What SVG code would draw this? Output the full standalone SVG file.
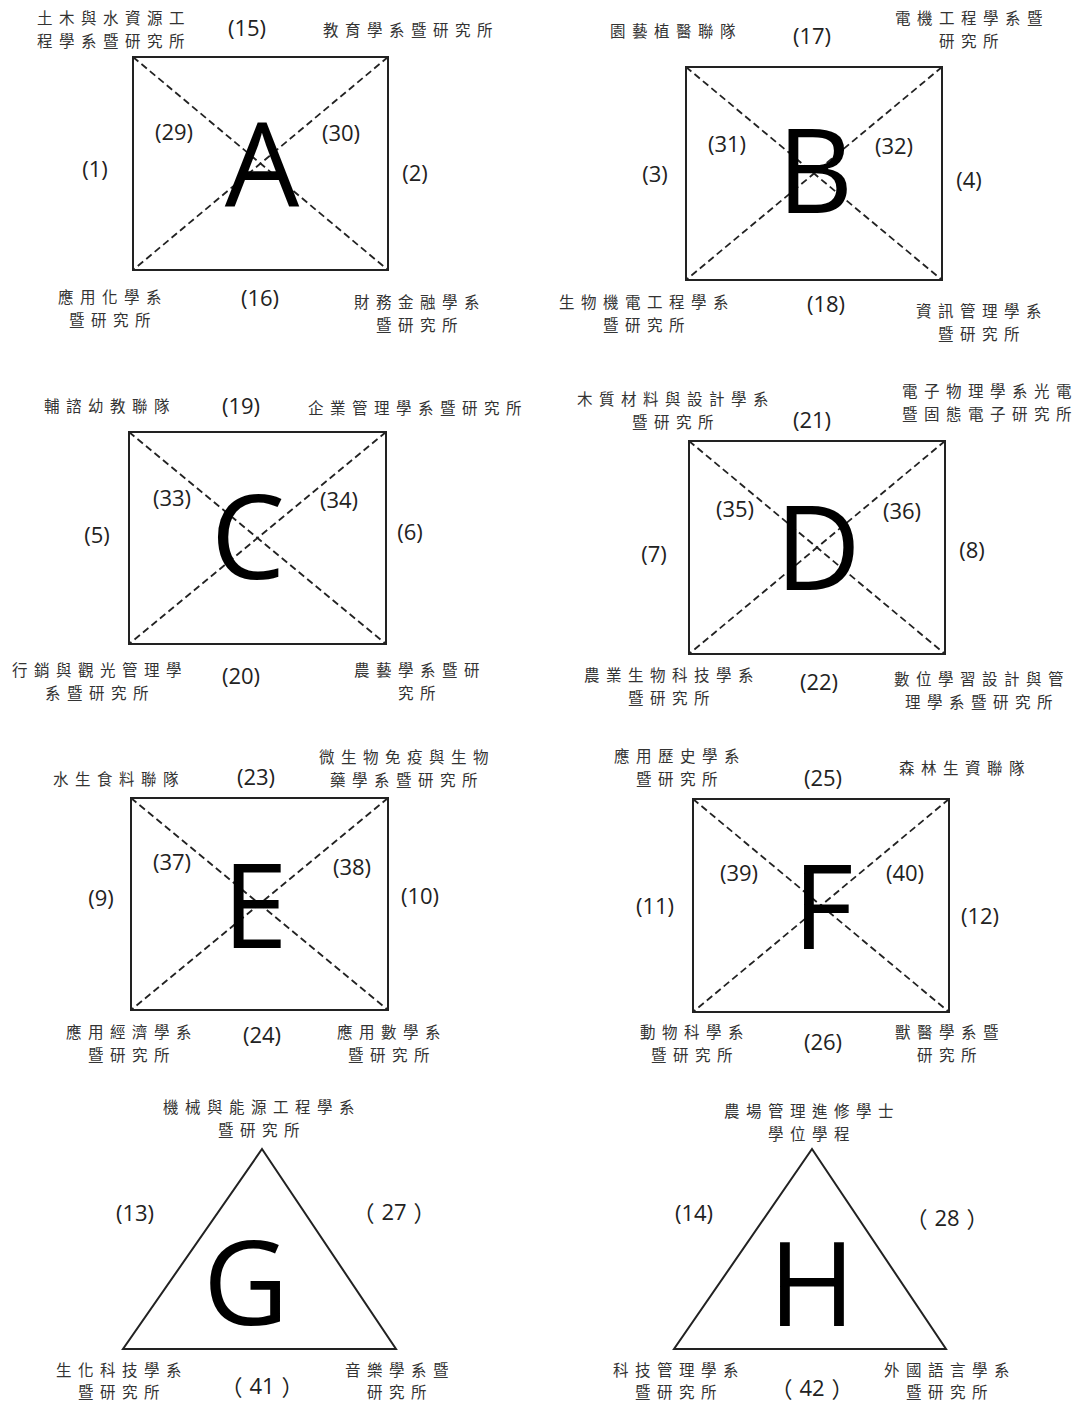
<svg xmlns="http://www.w3.org/2000/svg" width="1085" height="1403" viewBox="0 0 1085 1403">
<style>
.box{fill:none;stroke:#222;stroke-width:2}
.diag{stroke:#222;stroke-width:1.8;stroke-dasharray:7 4;fill:none}
.big{font-family:"Open Sans","Liberation Sans",sans-serif;font-size:118px;fill:#000;text-anchor:middle}
.num{font-family:"Open Sans","Noto Sans CJK TC",sans-serif;font-size:22px;fill:#222;text-anchor:middle;dominant-baseline:central}
.fw{font-family:"Noto Sans CJK TC","Noto Sans CJK SC",sans-serif}
.zh{font-family:"Noto Sans CJK TC","Noto Sans CJK SC",sans-serif;font-size:15.5px;letter-spacing:6.5px;fill:#333;text-anchor:middle;dominant-baseline:central}
</style>
<rect width="1085" height="1403" fill="#fff"/>

<g id="node-A">
<rect class="box" x="133" y="57" width="255" height="213"/>
<line class="diag" x1="133" y1="57" x2="388" y2="270"/>
<line class="diag" x1="388" y1="57" x2="133" y2="270"/>
<text class="big" x="262" y="207">A</text>
<text class="zh" x="114" y="17">土木與水資源工</text>
<text class="zh" x="114" y="40">程學系暨研究所</text>
<text class="num" x="247" y="27">(15)</text>
<text class="zh" x="411" y="29">教育學系暨研究所</text>
<text class="num" x="174" y="131">(29)</text>
<text class="num" x="341" y="132">(30)</text>
<text class="num" x="95" y="168">(1)</text>
<text class="num" x="415" y="172">(2)</text>
<text class="zh" x="113" y="296">應用化學系</text>
<text class="zh" x="113" y="319">暨研究所</text>
<text class="num" x="260" y="297">(16)</text>
<text class="zh" x="420" y="301">財務金融學系</text>
<text class="zh" x="420" y="324">暨研究所</text>
</g>

<g id="node-B">
<rect class="box" x="686" y="67" width="256" height="213"/>
<line class="diag" x1="686" y1="67" x2="942" y2="280"/>
<line class="diag" x1="942" y1="67" x2="686" y2="280"/>
<text class="big" x="815" y="213">B</text>
<text class="zh" x="676" y="30">園藝植醫聯隊</text>
<text class="num" x="812" y="35">(17)</text>
<text class="zh" x="972" y="17">電機工程學系暨</text>
<text class="zh" x="972" y="40">研究所</text>
<text class="num" x="727" y="143">(31)</text>
<text class="num" x="894" y="145">(32)</text>
<text class="num" x="655" y="173">(3)</text>
<text class="num" x="969" y="179">(4)</text>
<text class="zh" x="647" y="301">生物機電工程學系</text>
<text class="zh" x="647" y="324">暨研究所</text>
<text class="num" x="826" y="303">(18)</text>
<text class="zh" x="982" y="310">資訊管理學系</text>
<text class="zh" x="982" y="333">暨研究所</text>
</g>

<g id="node-C">
<rect class="box" x="129" y="432" width="257" height="212"/>
<line class="diag" x1="129" y1="432" x2="386" y2="644"/>
<line class="diag" x1="386" y1="432" x2="129" y2="644"/>
<text class="big" x="248" y="579">C</text>
<text class="zh" x="110" y="405">輔諮幼教聯隊</text>
<text class="num" x="241" y="405">(19)</text>
<text class="zh" x="418" y="407">企業管理學系暨研究所</text>
<text class="num" x="172" y="497">(33)</text>
<text class="num" x="339" y="499">(34)</text>
<text class="num" x="97" y="534">(5)</text>
<text class="num" x="410" y="531">(6)</text>
<text class="zh" x="100" y="669">行銷與觀光管理學</text>
<text class="zh" x="100" y="692">系暨研究所</text>
<text class="num" x="241" y="675">(20)</text>
<text class="zh" x="420" y="669">農藝學系暨研</text>
<text class="zh" x="420" y="692">究所</text>
</g>

<g id="node-D">
<rect class="box" x="689" y="441" width="256" height="213"/>
<line class="diag" x1="689" y1="441" x2="945" y2="654"/>
<line class="diag" x1="945" y1="441" x2="689" y2="654"/>
<text class="big" x="818" y="590">D</text>
<text class="zh" x="676" y="398">木質材料與設計學系</text>
<text class="zh" x="676" y="421">暨研究所</text>
<text class="num" x="812" y="419">(21)</text>
<text class="zh" x="990" y="390">電子物理學系光電</text>
<text class="zh" x="990" y="413">暨固態電子研究所</text>
<text class="num" x="735" y="508">(35)</text>
<text class="num" x="902" y="510">(36)</text>
<text class="num" x="654" y="553">(7)</text>
<text class="num" x="972" y="549">(8)</text>
<text class="zh" x="672" y="674">農業生物科技學系</text>
<text class="zh" x="672" y="697">暨研究所</text>
<text class="num" x="819" y="681">(22)</text>
<text class="zh" x="982" y="678">數位學習設計與管</text>
<text class="zh" x="982" y="701">理學系暨研究所</text>
</g>

<g id="node-E">
<rect class="box" x="131" y="798" width="257" height="212"/>
<line class="diag" x1="131" y1="798" x2="388" y2="1010"/>
<line class="diag" x1="388" y1="798" x2="131" y2="1010"/>
<text class="big" x="255" y="948">E</text>
<text class="zh" x="119" y="778">水生食料聯隊</text>
<text class="num" x="256" y="776">(23)</text>
<text class="zh" x="407" y="756">微生物免疫與生物</text>
<text class="zh" x="407" y="779">藥學系暨研究所</text>
<text class="num" x="172" y="861">(37)</text>
<text class="num" x="352" y="866">(38)</text>
<text class="num" x="101" y="897">(9)</text>
<text class="num" x="420" y="895">(10)</text>
<text class="zh" x="132" y="1031">應用經濟學系</text>
<text class="zh" x="132" y="1054">暨研究所</text>
<text class="num" x="262" y="1034">(24)</text>
<text class="zh" x="392" y="1031">應用數學系</text>
<text class="zh" x="392" y="1054">暨研究所</text>
</g>

<g id="node-F">
<rect class="box" x="693" y="799" width="256" height="213"/>
<line class="diag" x1="693" y1="799" x2="949" y2="1012"/>
<line class="diag" x1="949" y1="799" x2="693" y2="1012"/>
<text class="big" x="823" y="949">F</text>
<text class="zh" x="680" y="755">應用歷史學系</text>
<text class="zh" x="680" y="778">暨研究所</text>
<text class="num" x="823" y="777">(25)</text>
<text class="zh" x="965" y="767">森林生資聯隊</text>
<text class="num" x="739" y="872">(39)</text>
<text class="num" x="905" y="872">(40)</text>
<text class="num" x="655" y="905">(11)</text>
<text class="num" x="980" y="915">(12)</text>
<text class="zh" x="695" y="1031">動物科學系</text>
<text class="zh" x="695" y="1054">暨研究所</text>
<text class="num" x="823" y="1041">(26)</text>
<text class="zh" x="950" y="1031">獸醫學系暨</text>
<text class="zh" x="950" y="1054">研究所</text>
</g>

<g id="node-G">
<polygon class="box" points="262,1149 396,1349 123,1349"/>
<text class="big" x="246" y="1325">G</text>
<text class="zh" x="262" y="1106">機械與能源工程學系</text>
<text class="zh" x="262" y="1129">暨研究所</text>
<text class="num" x="135" y="1212">(13)</text>
<text class="num" x="394" y="1211"><tspan class="fw">（</tspan><tspan dx="7">27</tspan><tspan class="fw" dx="7">）</tspan></text>
<text class="zh" x="122" y="1369">生化科技學系</text>
<text class="zh" x="122" y="1391">暨研究所</text>
<text class="num" x="262" y="1385"><tspan class="fw">（</tspan><tspan dx="7">41</tspan><tspan class="fw" dx="7">）</tspan></text>
<text class="zh" x="400" y="1369">音樂學系暨</text>
<text class="zh" x="400" y="1391">研究所</text>
</g>

<g id="node-H">
<polygon class="box" points="812,1149 946,1349 674,1349"/>
<text class="big" x="812" y="1326">H</text>
<text class="zh" x="812" y="1110">農場管理進修學士</text>
<text class="zh" x="812" y="1133">學位學程</text>
<text class="num" x="694" y="1212">(14)</text>
<text class="num" x="947" y="1217"><tspan class="fw">（</tspan><tspan dx="7">28</tspan><tspan class="fw" dx="7">）</tspan></text>
<text class="zh" x="679" y="1369">科技管理學系</text>
<text class="zh" x="679" y="1391">暨研究所</text>
<text class="num" x="812" y="1387"><tspan class="fw">（</tspan><tspan dx="7">42</tspan><tspan class="fw" dx="7">）</tspan></text>
<text class="zh" x="950" y="1369">外國語言學系</text>
<text class="zh" x="950" y="1391">暨研究所</text>
</g>
</svg>
